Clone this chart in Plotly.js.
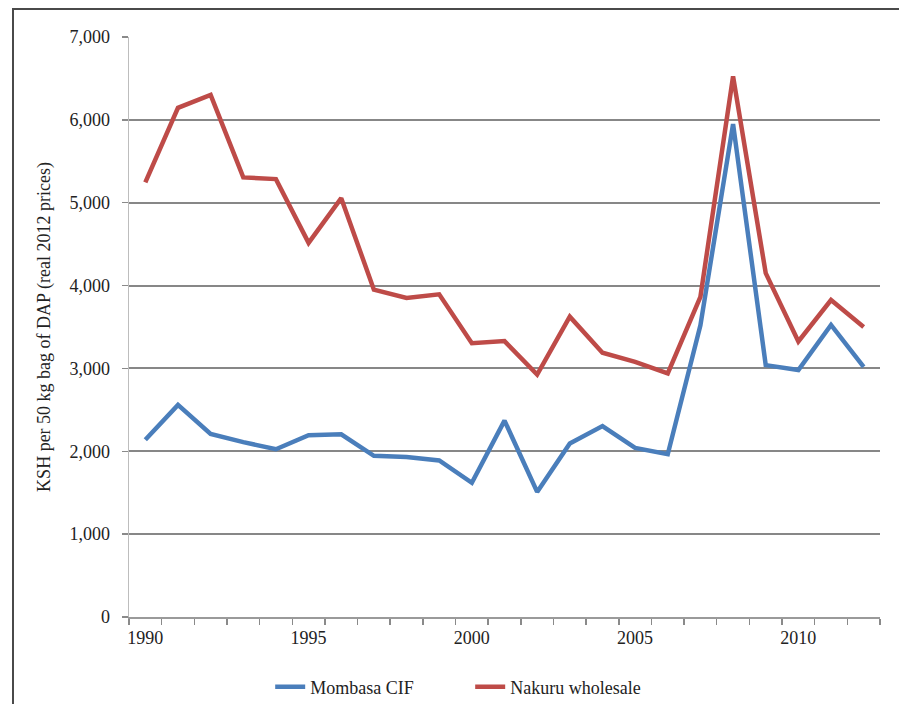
<!DOCTYPE html>
<html>
<head>
<meta charset="utf-8">
<script src="https://cdn.plot.ly/plotly-3.0.1.min.js"></script>
<style>
  html, body { margin: 0; padding: 0; background: #fff; }
  #wrap { position: relative; width: 899px; height: 704px; overflow: hidden; }
  #chart { position: absolute; left: 0; top: 0; width: 899px; height: 704px; }
  #frame { position: absolute; left: 12px; top: 8px; width: 900px; height: 720px;
           border-left: 2px solid #4a4a4a; border-top: 2px solid #4a4a4a; pointer-events: none; }
</style>
</head>
<body>
<div id="wrap">
  <div id="chart"></div>
  <div id="frame"></div>
</div>
<script>
const years = [1990,1991,1992,1993,1994,1995,1996,1997,1998,1999,2000,2001,2002,2003,2004,2005,2006,2007,2008,2009,2010,2011,2012];
const mombasaCIF = [2140,2560,2210,2110,2025,2195,2205,1945,1930,1890,1620,2370,1510,2095,2305,2040,1965,3520,5950,3040,2980,3525,3020];
const nakuruWholesale = [5245,6145,6300,5305,5285,4515,5055,3950,3850,3895,3305,3330,2925,3625,3190,3080,2940,3865,6525,4150,3325,3825,3500];
const xTickVals = [1990,1995,2000,2005,2010];
const xTickText = ['1990','1995','2000','2005','2010'];
const seriesNames = ['Mombasa CIF','Nakuru wholesale'];
const seriesColors = ['#4A7EBB','#BE4B48'];
const yTitle = 'KSH per 50 kg bag of DAP (real 2012 prices)';

const SERIF = 'Liberation Serif, Times New Roman, serif';
function mkFont() { return {family: SERIF, size: 18, color: '#222222'}; }

const traces = [
  {x: years, y: mombasaCIF, name: seriesNames[0], type: 'scatter', mode: 'lines',
   line: {color: seriesColors[0], width: 4.5}},
  {x: years, y: nakuruWholesale, name: seriesNames[1], type: 'scatter', mode: 'lines',
   line: {color: seriesColors[1], width: 4.5}}
];

const layout = {
  width: 899, height: 704,
  margin: {l: 129, r: 19, t: 37, b: 87},
  paper_bgcolor: '#fff', plot_bgcolor: '#fff',
  font: mkFont(),
  showlegend: true,
  legend: {orientation: 'h', x: 0.188, xanchor: 'left', xref: 'paper',
           yref: 'container', y: 0.024, yanchor: 'middle',
           entrywidth: 155, font: mkFont(), bgcolor: 'rgba(0,0,0,0)', tracegroupgap: 0},
  xaxis: {
    range: [1989.5, 2012.5], tickmode: 'array', tickvals: xTickVals, ticktext: xTickText,
    ticks: '', showgrid: false, zeroline: false, showline: true, linecolor: '#9a9a9a', linewidth: 1.5,
    ticklabelstandoff: 4, tickfont: mkFont(), automargin: false,
    minor: {tickmode: 'linear', tick0: 1989.5, dtick: 1, ticks: 'outside', ticklen: 6, tickcolor: '#8a8a8a', tickwidth: 1.5, showgrid: false},
    fixedrange: true
  },
  yaxis: {
    range: [0, 7000], dtick: 1000, tickformat: ',', ticks: 'outside', ticklen: 6, tickcolor: '#8a8a8a', tickwidth: 1.5,
    showgrid: true, gridcolor: '#878787', gridwidth: 2, zeroline: false,
    showline: true, linecolor: '#bdbdbd', linewidth: 1.5,
    ticklabelstandoff: 8, tickfont: mkFont(),
    title: {text: yTitle, font: mkFont(), standoff: 14},
    automargin: false, fixedrange: true
  }
};

Plotly.newPlot('chart', traces, layout, {staticPlot: true, displayModeBar: false});
</script>
</body>
</html>
